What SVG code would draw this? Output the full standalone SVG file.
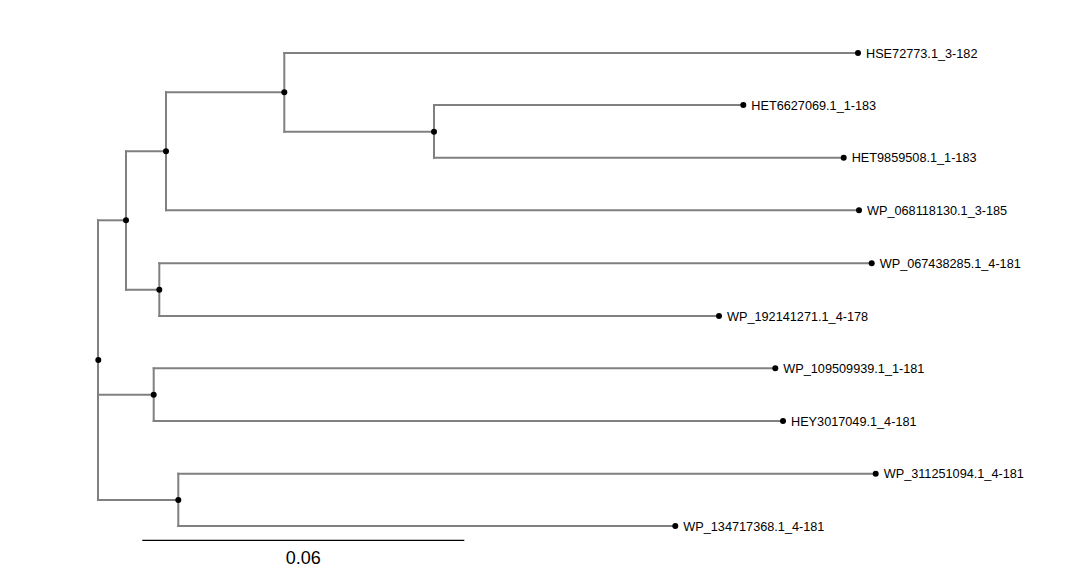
<svg xmlns="http://www.w3.org/2000/svg" width="1077" height="570" viewBox="0 0 1077 570">
<style>
.br{fill:none;stroke:#808080;stroke-width:2;stroke-linecap:square}
.dot{fill:#000}
.lbl{font-family:"Liberation Sans",Arial,sans-serif;font-size:12.7px;fill:#000}
.sc{font-family:"Liberation Sans",Arial,sans-serif;font-size:18px;fill:#000;text-anchor:middle}
</style>
<rect width="1077" height="570" fill="#fff"/>
<g id="connectors">
<path class="br" d="M98,220.3 V500"/>
<path class="br" d="M98,220.3 H126"/>
<path class="br" d="M98,394.7 H153.7"/>
<path class="br" d="M98,500 H178.3"/>
<path class="br" d="M126,151.3 V289.7"/>
<path class="br" d="M126,151.3 H166"/>
<path class="br" d="M126,289.7 H159.3"/>
<path class="br" d="M166,92.3 V210.3"/>
<path class="br" d="M166,92.3 H284.3"/>
<path class="br" d="M166,210.3 H859"/>
<path class="br" d="M284.3,53 V131.7"/>
<path class="br" d="M284.3,53 H858"/>
<path class="br" d="M284.3,131.7 H434"/>
<path class="br" d="M434,105 V157.7"/>
<path class="br" d="M434,105 H743.3"/>
<path class="br" d="M434,157.7 H843.7"/>
<path class="br" d="M159.3,263.3 V316"/>
<path class="br" d="M159.3,263.3 H871.7"/>
<path class="br" d="M159.3,316 H719"/>
<path class="br" d="M153.7,368.3 V421"/>
<path class="br" d="M153.7,368.3 H775.3"/>
<path class="br" d="M153.7,421 H783"/>
<path class="br" d="M178.3,473.7 V526"/>
<path class="br" d="M178.3,473.7 H875.7"/>
<path class="br" d="M178.3,526 H675.3"/>
</g>
<g id="internal-nodes">
<circle class="dot" cx="98.3" cy="360" r="3"/>
<circle class="dot" cx="126" cy="220.3" r="3"/>
<circle class="dot" cx="166" cy="151.3" r="3"/>
<circle class="dot" cx="284.3" cy="92.3" r="3"/>
<circle class="dot" cx="434" cy="131.7" r="3"/>
<circle class="dot" cx="159.3" cy="289.7" r="3"/>
<circle class="dot" cx="153.7" cy="394.7" r="3"/>
<circle class="dot" cx="178.3" cy="500" r="3"/>
</g>
<g id="leaf-HSE72773"><circle class="dot" cx="858" cy="53" r="3"/><text class="lbl" x="866" y="57.5">HSE72773.1_3-182</text></g>
<g id="leaf-HET6627069"><circle class="dot" cx="743.3" cy="105" r="3"/><text class="lbl" x="751.3" y="109.5">HET6627069.1_1-183</text></g>
<g id="leaf-HET9859508"><circle class="dot" cx="843.7" cy="157.7" r="3"/><text class="lbl" x="851.7" y="162.2">HET9859508.1_1-183</text></g>
<g id="leaf-WP_068118130"><circle class="dot" cx="859" cy="210.3" r="3"/><text class="lbl" x="867" y="214.8">WP_068118130.1_3-185</text></g>
<g id="leaf-WP_067438285"><circle class="dot" cx="871.7" cy="263.3" r="3"/><text class="lbl" x="879.7" y="267.8">WP_067438285.1_4-181</text></g>
<g id="leaf-WP_192141271"><circle class="dot" cx="719" cy="316" r="3"/><text class="lbl" x="727" y="320.5">WP_192141271.1_4-178</text></g>
<g id="leaf-WP_109509939"><circle class="dot" cx="775.3" cy="368.3" r="3"/><text class="lbl" x="783.3" y="372.8">WP_109509939.1_1-181</text></g>
<g id="leaf-HEY3017049"><circle class="dot" cx="783" cy="421" r="3"/><text class="lbl" x="791" y="425.5">HEY3017049.1_4-181</text></g>
<g id="leaf-WP_311251094"><circle class="dot" cx="875.7" cy="473.7" r="3"/><text class="lbl" x="883.7" y="478.2">WP_311251094.1_4-181</text></g>
<g id="leaf-WP_134717368"><circle class="dot" cx="675.3" cy="526" r="3"/><text class="lbl" x="683.3" y="530.5">WP_134717368.1_4-181</text></g>
<g id="scale-bar">
<line x1="142.3" y1="540.3" x2="464.3" y2="540.3" stroke="#000" stroke-width="1.3"/>
<text class="sc" x="303.3" y="563.5">0.06</text>
</g>
</svg>
